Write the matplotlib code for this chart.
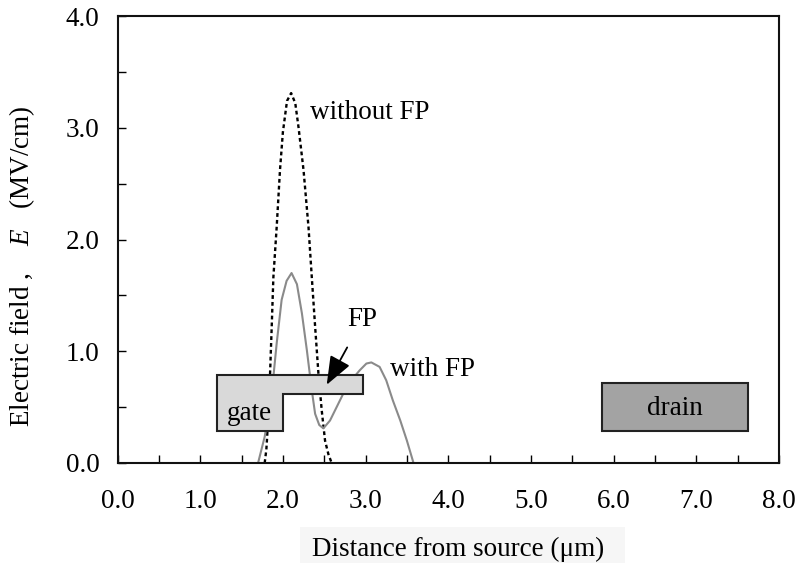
import matplotlib
matplotlib.use("Agg")
import matplotlib.pyplot as plt
from matplotlib.patches import Polygon, Rectangle
from matplotlib.ticker import MultipleLocator, FormatStrFormatter

plt.rcParams['font.family'] = ['Liberation Serif', 'DejaVu Serif']
plt.rcParams['mathtext.fontset'] = 'custom'
plt.rcParams['mathtext.it'] = 'Liberation Serif:italic'
plt.rcParams['mathtext.rm'] = 'Liberation Serif'

# Field profile without field plate (dotted)
without_x = [1.78, 1.80, 1.81, 1.845, 1.865, 1.885, 1.925, 1.965, 2.00, 2.05,
             2.10, 2.15, 2.19, 2.25, 2.31, 2.35, 2.39, 2.43, 2.47, 2.51, 2.55, 2.59]
without_y = [0.0, 0.12, 0.235, 0.80, 1.22, 1.66, 2.11, 2.62, 2.96, 3.24,
             3.31, 3.22, 3.00, 2.62, 2.11, 1.66, 1.22, 0.80, 0.47, 0.20, 0.08, 0.0]

# Field profile with field plate (solid grey)
with_x = [1.70, 1.78, 1.865, 1.925, 1.985, 2.045, 2.105, 2.17, 2.23, 2.29, 2.35,
          2.39, 2.44, 2.49, 2.57, 2.65, 2.75, 2.85, 2.93, 3.01, 3.07, 3.17, 3.25,
          3.33, 3.42, 3.50, 3.58]
with_y = [0.0, 0.235, 0.62, 1.07, 1.46, 1.63, 1.70, 1.60, 1.34, 1.01, 0.65,
          0.44, 0.34, 0.31, 0.38, 0.50, 0.65, 0.76, 0.83, 0.89, 0.90, 0.86, 0.74,
          0.56, 0.38, 0.20, 0.0]

# Electrode outlines (gate with field plate, drain)
gate_x = [1.20, 2.97, 2.97, 2.00, 2.00, 1.20]
gate_y = [0.785, 0.785, 0.62, 0.62, 0.29, 0.29]
drain_x = [5.86, 7.63]
drain_y = [0.29, 0.72]

x_ticks = [0, 1, 2, 3, 4, 5, 6, 7, 8]
y_ticks = [0, 1, 2, 3, 4]

fs = 19.5

fig = plt.figure(figsize=(7.99, 5.63), dpi=100)
ax = fig.add_axes([117.5 / 799, 100 / 563, (779 - 117.5) / 799, (463 - 16) / 563])

ax.plot(without_x, without_y, color='black', lw=1.7,
        linestyle=(0, (1.6, 1.3)), zorder=2)
ax.plot(with_x, with_y, color='#8a8a8a', lw=1.5, zorder=2)

ax.add_patch(Polygon(list(zip(gate_x, gate_y)), closed=True,
                     facecolor='#d9d9d9', edgecolor='#222222', lw=1.5, zorder=3))
ax.add_patch(Rectangle((drain_x[0], drain_y[0]), drain_x[1] - drain_x[0],
                       drain_y[1] - drain_y[0], facecolor='#a3a3a3',
                       edgecolor='#222222', lw=1.5, zorder=3))

ax.text(1.60, 0.445, 'gate', fontsize=fs, ha='center', va='center', zorder=4)
ax.text(6.74, 0.49, 'drain', fontsize=fs, ha='center', va='center', zorder=4)
ax.text(2.33, 3.14, 'without FP', fontsize=fs, ha='left', va='center', zorder=4)
ax.text(3.30, 0.84, 'with FP', fontsize=fs, ha='left', va='center', zorder=4)
ax.annotate('FP', xy=(2.53, 0.70), xytext=(2.96, 1.28), fontsize=fs,
            ha='center', va='center', zorder=5,
            arrowprops=dict(arrowstyle='-|>,head_length=0.9,head_width=0.35',
                            color='black', lw=1.3, shrinkA=10, shrinkB=0))

ax.set_xlim(0, 8)
ax.set_ylim(0, 4)
ax.set_xticks(x_ticks)
ax.set_yticks(y_ticks)
ax.xaxis.set_minor_locator(MultipleLocator(0.5))
ax.yaxis.set_minor_locator(MultipleLocator(0.5))
ax.xaxis.set_major_formatter(FormatStrFormatter('%.1f'))
ax.yaxis.set_major_formatter(FormatStrFormatter('%.1f'))
ax.tick_params(axis='both', which='both', direction='in', length=6, width=1,
               labelsize=fs, top=False, right=False)
ax.tick_params(axis='x', which='major', pad=19)
ax.tick_params(axis='y', which='major', pad=13)
for s in ax.spines.values():
    s.set_linewidth(1.5)
    s.set_color('#111111')

# faint panel behind the x-axis title
fig.patches.append(Rectangle((300 / 799, 0), 325 / 799, 36 / 563,
                             transform=fig.transFigure, facecolor='#f6f6f6',
                             edgecolor='none', zorder=0))
fig.text(458 / 799, 1 - 549 / 563, 'Distance from source (μm)', fontsize=fs,
         ha='center', va='center')
fig.text(22 / 799, 1 - 266 / 563, r'Electric field ,    $E$   (MV/cm)', fontsize=fs,
         rotation=90, ha='center', va='center')

fig.savefig('out.png', dpi=100)
